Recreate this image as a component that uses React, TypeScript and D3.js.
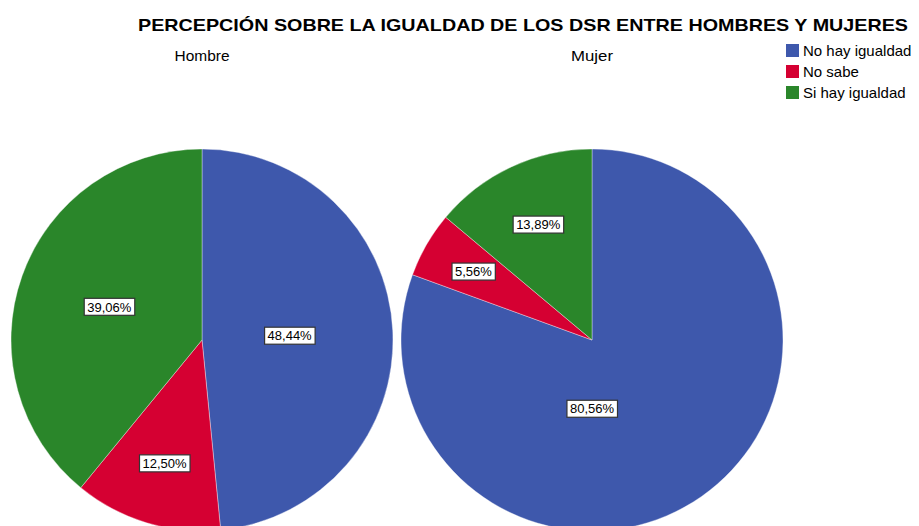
import React, { useEffect, useRef } from 'react';
import * as d3 from 'd3';

const categories = ['No hay igualdad', 'No sabe', 'Si hay igualdad'];
const groups = ['Hombre', 'Mujer'];
const hombreValues = [48.44, 12.5, 39.06];
const mujerValues = [80.56, 5.56, 13.89];
const sliceColors = ['#3E58AC', '#D50032', '#2A862A'];
const chartTitle = 'PERCEPCIÓN SOBRE LA IGUALDAD DE LOS DSR ENTRE HOMBRES Y MUJERES';

const W = 919;
const H = 526;
const R = 191;
const FONT = '"Liberation Sans", Arial, sans-serif';

function drawPies(svgEl: SVGSVGElement) {
  const svg = d3.select(svgEl);
  svg.selectAll('*').remove();
  svg.attr('width', W).attr('height', H);

  const x = d3.scalePoint<string>().domain(groups).range([202, 592]);
  const color = d3.scaleOrdinal<string, string>().domain(categories).range(sliceColors);
  const cy = 340;

  // titulo
  svg.append('text')
    .attr('x', 138)
    .attr('y', 31)
    .attr('textLength', 770)
    .attr('lengthAdjust', 'spacingAndGlyphs')
    .style('font-family', FONT)
    .style('font-size', '17px')
    .style('font-weight', 'bold')
    .attr('fill', '#000')
    .text(chartTitle);

  const pie = d3.pie<number>().sort(null).value(d => d);
  const arc = d3.arc<d3.PieArcDatum<number>>().innerRadius(0).outerRadius(R);

  const seriesByGroup: Record<string, number[]> = { Hombre: hombreValues, Mujer: mujerValues };

  groups.forEach(g => {
    const values = seriesByGroup[g];
    const total = d3.sum(values);
    const cx = x(g) as number;
    const gEl = svg.append('g').attr('transform', `translate(${cx},${cy})`);

    const arcs = pie(values);
    gEl.selectAll('path')
      .data(arcs)
      .join('path')
      .attr('d', arc)
      .attr('fill', (d, i) => color(categories[i]))
      .attr('stroke', '#ffffff')
      .attr('stroke-opacity', 0.45)
      .attr('stroke-width', 0.8);

    arcs.forEach(d => {
      const f = d.value / total;
      let ang = (d.startAngle + d.endAngle) / 2;
      let dist = R * (0.75 - 0.6 * f);
      if (f > 0.5) {
        ang = Math.PI;
        dist = R * 0.36;
      }
      const lx = Math.sin(ang) * dist;
      const ly = -Math.cos(ang) * dist;
      const label = d.value.toFixed(2).replace('.', ',') + '%';
      const lab = gEl.append('g').attr('transform', `translate(${lx},${ly})`);
      const t = lab.append('text')
        .attr('text-anchor', 'middle')
        .attr('dy', '0.36em')
        .style('font-family', FONT)
        .style('font-size', '13px')
        .attr('fill', '#000')
        .text(label);
      const bb = (t.node() as SVGTextElement).getBBox();
      lab.insert('rect', 'text')
        .attr('x', bb.x - 3)
        .attr('y', -8.5)
        .attr('width', bb.width + 6)
        .attr('height', 17)
        .attr('fill', '#fff')
        .attr('stroke', '#333')
        .attr('stroke-width', 1.2);
    });

    // subtitulo
    svg.append('text')
      .attr('x', cx)
      .attr('y', 61)
      .attr('text-anchor', 'middle')
      .style('font-family', FONT)
      .style('font-size', '15px')
      .attr('textLength', g === 'Hombre' ? 55 : 42)
      .attr('lengthAdjust', 'spacingAndGlyphs')
      .attr('fill', '#000')
      .text(g);
  });

  // leyenda
  const legend = svg.append('g').attr('transform', 'translate(786,44)');
  const ly = d3.scaleBand<string>().domain(categories).range([0, 63]);
  categories.forEach(c => {
    const row = legend.append('g').attr('transform', `translate(0,${ly(c)})`);
    row.append('rect')
      .attr('width', 13)
      .attr('height', 13)
      .attr('fill', color(c));
    row.append('text')
      .attr('x', 17)
      .attr('y', 12)
      .style('font-family', FONT)
      .style('font-size', '15px')
      .attr('fill', '#000')
      .text(c);
  });
}

const App = () => {
  const svgRef = useRef<SVGSVGElement>(null);

  useEffect(() => {
    if (svgRef.current) drawPies(svgRef.current);
  }, []);

  return (
    <div style={{ position: 'absolute', left: 0, top: 0, background: '#fff' }}>
      <svg ref={svgRef} style={{ display: 'block' }} />
    </div>
  );
};

export default App;
